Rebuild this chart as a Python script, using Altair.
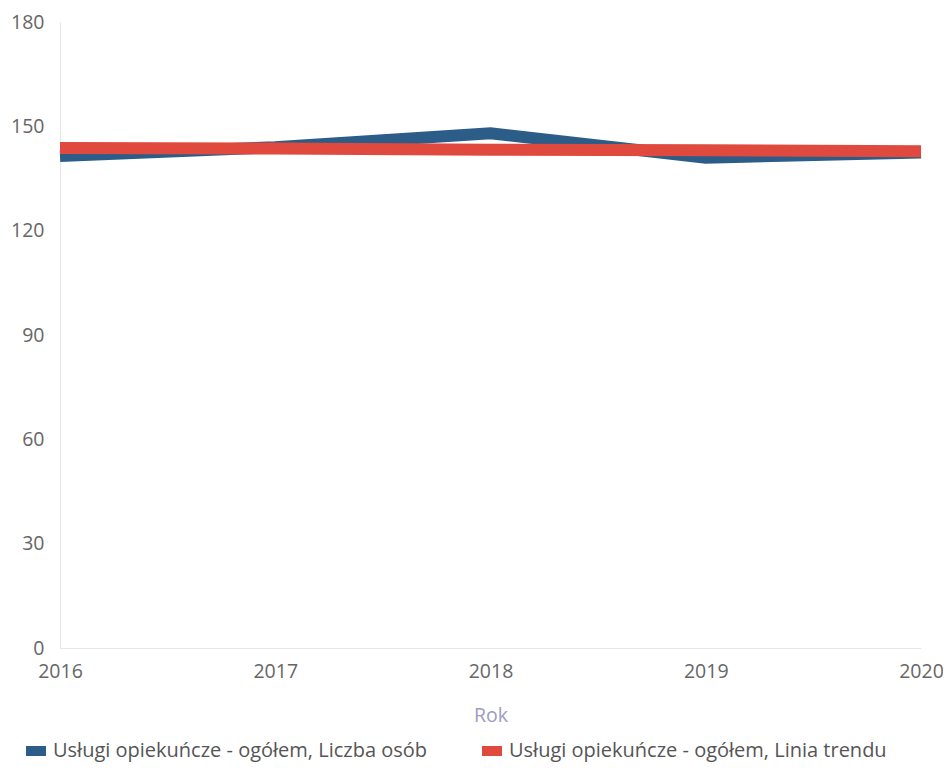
import altair as alt
import pandas as pd

years = [2016, 2017, 2018, 2019, 2020]
liczba_osob = [141.5, 144, 148, 141, 142.5]
linia_trendu = [143.8, 143.6, 143.3, 143.1, 142.8]

s1 = "Usługi opiekuńcze - ogółem, Liczba osób"
s2 = "Usługi opiekuńcze - ogółem, Linia trendu"

df = pd.DataFrame({
    "Rok": years * 2,
    "value": liczba_osob + linia_trendu,
    "series": [s1] * len(years) + [s2] * len(years),
})

FONT = "Open Sans"
FS = 19.5

chart = alt.Chart(df).mark_line(strokeWidth=12, strokeJoin="miter", strokeCap="butt").encode(
    x=alt.X("Rok:Q",
            scale=alt.Scale(domain=[2016, 2020], nice=False, zero=False),
            axis=alt.Axis(values=years, format="d", title="Rok",
                          labelFlush=False, labelOverlap=False,
                          labelFontSize=FS, labelColor="#666666", labelFont=FONT,
                          labelPadding=14, ticks=False, grid=False,
                          domainColor="#e6e6e6", domainWidth=1,
                          titleFontSize=FS, titleFontWeight="normal", titleColor="#9c9cc0",
                          titleFont=FONT, titlePadding=26)),
    y=alt.Y("value:Q",
            scale=alt.Scale(domain=[0, 180], nice=False),
            axis=alt.Axis(values=[0, 30, 60, 90, 120, 150, 180], title=None,
                          labelFontSize=FS, labelColor="#666666", labelFont=FONT,
                          labelPadding=16, ticks=False, grid=False,
                          domainColor="#e6e6e6", domainWidth=1)),
    color=alt.Color("series:N",
                    scale=alt.Scale(domain=[s1, s2], range=["#2c5d88", "#e0493e"]),
                    legend=alt.Legend(orient="none", legendX=-39, legendY=714,
                                      direction="horizontal", title=None,
                                      symbolType="stroke", symbolSize=400,
                                      symbolStrokeWidth=10, labelFontSize=20,
                                      labelColor="#555555", labelFont=FONT,
                                      labelOffset=2, columnPadding=34, labelLimit=600)),
).properties(
    width=861,
    height=626,
    autosize=alt.AutoSizeParams(type="none"),
    padding={"left": 52, "top": 14, "right": 22, "bottom": 117},
).configure(background="white").configure_view(stroke=None)

chart.save("out.html", embed_options={"renderer": "svg", "actions": False})
